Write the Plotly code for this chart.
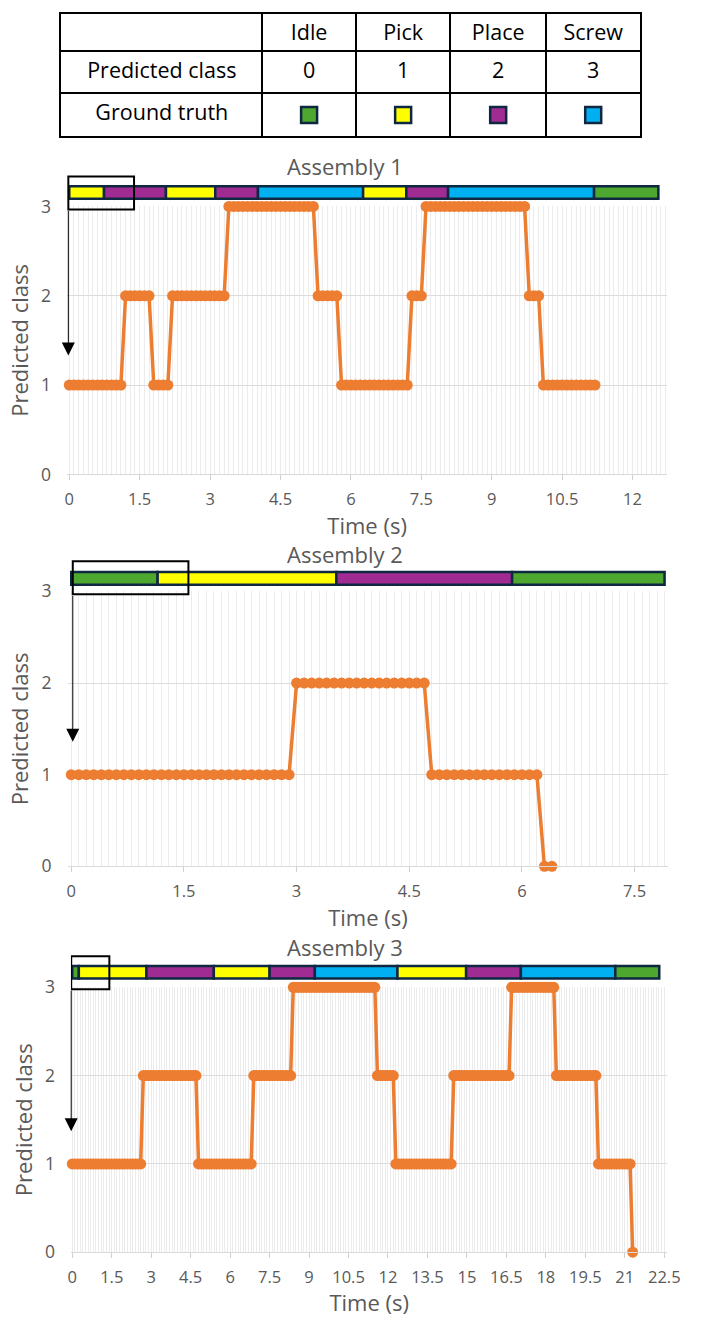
import plotly.graph_objects as go

W, H = 702, 1317

# ---------------- data ----------------
classes = ["Idle", "Pick", "Place", "Screw"]
class_ids = [0, 1, 2, 3]
gt_colors = ["#4EA72E", "#FFFF00", "#A02B93", "#00B0F0"]

sample_dt = 0.1  # seconds between predictions

# predicted class, run-length encoded: (class, number of consecutive samples)
pred1_class = [1, 2, 1, 2, 3, 2, 1, 2, 3, 2, 1]
pred1_count = [12, 6, 4, 12, 19, 5, 15, 3, 22, 3, 12]
pred2_class = [1, 2, 1, 0]
pred2_count = [30, 18, 15, 2]
pred3_class = [1, 2, 1, 2, 3, 2, 1, 2, 3, 2, 1, 0]
pred3_count = [27, 21, 21, 15, 32, 7, 22, 22, 17, 16, 13, 1]

# ground-truth segments (seconds)
gt1_start = [0, 0.74, 2.06, 3.11, 4.02, 6.26, 7.18, 8.07, 11.18]
gt1_end = [0.74, 2.06, 3.11, 4.02, 6.26, 7.18, 8.07, 11.18, 12.55]
gt1_label = [1, 2, 1, 2, 3, 1, 2, 3, 0]
gt2_start = [0, 1.15, 3.53, 5.87]
gt2_end = [1.15, 3.53, 5.87, 7.9]
gt2_label = [0, 1, 2, 0]
gt3_start = [0, 0.25, 2.82, 5.38, 7.5, 9.22, 12.36, 14.97, 17.05, 20.64]
gt3_end = [0.25, 2.82, 5.38, 7.5, 9.22, 12.36, 14.97, 17.05, 20.64, 22.31]
gt3_label = [0, 1, 2, 1, 2, 3, 1, 2, 3, 0]

titles = ["Assembly 1", "Assembly 2", "Assembly 3"]
x_tick_step = 1.5
x_label = "Time (s)"
y_label = "Predicted class"
row_labels = ["Predicted class", "Ground truth"]


def expand(cls, cnt):
    ys = []
    for c, n in zip(cls, cnt):
        ys += [c] * n
    ts = [round(i * sample_dt, 3) for i in range(len(ys))]
    return ts, ys


preds = [expand(pred1_class, pred1_count), expand(pred2_class, pred2_count),
         expand(pred3_class, pred3_count)]
gts = [(gt1_start, gt1_end, gt1_label), (gt2_start, gt2_end, gt2_label),
       (gt3_start, gt3_end, gt3_label)]

# ---------------- layout geometry (target pixels in the photo) ----------------
# the photographed page shows up slightly scaled/offset; compensate for it
SC = 0.982
OX, OY = 1.4, 11.5


def fx(p):
    return ((p - OX) / SC) / W


def fy(p):
    return 1 - ((p - OY) / SC) / H


panels = [
    dict(t0=68, scale=47.17, xr=(-0.05, 12.74), plot=(205, 473), bar=(176, 206),
         title_y=165, box=(-0.02, 1.38), box_y=(-0.067, 1.033), arrow=(1.33, 2.966)),
    dict(t0=70, scale=75.47, xr=(-0.05, 7.95), plot=(590, 865), bar=(562, 592),
         title_y=553, box=(0.02, 1.56), box_y=(-0.033, 1.067), arrow=(1.36, 2.967)),
    dict(t0=71, scale=26.44, xr=(-0.05, 22.62), plot=(986, 1251), bar=(956, 986),
         title_y=946, box=(-0.04, 1.41), box_y=(-0.067, 1.033), arrow=(1.37, 2.98)),
]

ORANGE = "#ED7D31"
DARK = "#0E2841"
GRAY_TXT = "#595959"
FONT = "Open Sans"

fig = go.Figure()
layout = dict(width=W, height=H, margin=dict(l=0, r=0, t=0, b=0),
              paper_bgcolor="white", plot_bgcolor="rgba(0,0,0,0)", showlegend=False,
              font=dict(family=FONT, color=GRAY_TXT))
shapes = []
annotations = []

for i, p in enumerate(panels):
    n = i + 1
    bn = i + 4
    xs = "" if n == 1 else str(n)
    left = p["t0"] + p["xr"][0] * p["scale"]
    right = p["t0"] + p["xr"][1] * p["scale"]
    xdom = [fx(left), fx(right)]

    layout["xaxis" + xs] = dict(
        domain=xdom, range=list(p["xr"]), anchor="y" + xs, tick0=0, dtick=x_tick_step,
        ticks="outside", ticklen=5, tickcolor="#d0d0d0", showline=True,
        linecolor="#d9d9d9", linewidth=1, showgrid=True, gridcolor="#ebebeb",
        zeroline=False, minor=dict(dtick=sample_dt, showgrid=True, gridcolor="#ececec"),
        tickfont=dict(size=16.5, color=GRAY_TXT), ticklabelstandoff=5,
        title=dict(text=x_label, font=dict(size=22, color=GRAY_TXT), standoff=2),
        fixedrange=True)
    layout["yaxis" + xs] = dict(
        domain=[fy(p["plot"][1]), fy(p["plot"][0])], range=[0, 3], anchor="x" + xs,
        tickvals=class_ids, showgrid=True, gridcolor="#dcdcdc", zeroline=False,
        showline=False, ticks="", ticklabelstandoff=15,
        tickfont=dict(size=17.5, color=GRAY_TXT),
        title=dict(text=y_label, font=dict(size=22, color=GRAY_TXT), standoff=6),
        fixedrange=True)
    layout["xaxis%d" % bn] = dict(domain=xdom, matches="x" + xs, anchor="y%d" % bn,
                                  visible=False, fixedrange=True)
    layout["yaxis%d" % bn] = dict(domain=[fy(p["bar"][1]), fy(p["bar"][0])],
                                  range=[-0.5, 0.5], anchor="x%d" % bn, visible=False,
                                  fixedrange=True)

    # ground truth bar
    st, en, lab = gts[i]
    fig.add_trace(go.Bar(
        x=[e - s for s, e in zip(st, en)], base=st, y=[0] * len(st), orientation="h",
        width=0.42, marker=dict(color=[gt_colors[l] for l in lab],
                                line=dict(color=DARK, width=2.5)),
        xaxis="x%d" % bn, yaxis="y%d" % bn, hoverinfo="skip"))

    # predictions
    ts, ys = preds[i]
    fig.add_trace(go.Scatter(
        x=ts, y=ys, mode="lines+markers", line=dict(color=ORANGE, width=3.5),
        marker=dict(size=11, color=ORANGE), cliponaxis=False,
        xaxis="x" + xs, yaxis="y" + xs, hoverinfo="skip"))

    # zoom box + arrow
    shapes.append(dict(type="rect", xref="x%d" % bn, yref="y%d domain" % bn,
                       x0=p["box"][0], x1=p["box"][1], y0=p["box_y"][0], y1=p["box_y"][1],
                       line=dict(color="black", width=2), fillcolor="rgba(0,0,0,0)",
                       layer="above"))
    annotations.append(dict(x=p["box"][0], y=p["arrow"][0], xref="x" + xs, yref="y" + xs,
                            ax=p["box"][0], ay=p["arrow"][1], axref="x" + xs,
                            ayref="y" + xs, text="", showarrow=True, arrowhead=2,
                            arrowsize=2.6, arrowwidth=1, arrowcolor="black"))
    annotations.append(dict(x=fx(345), y=fy(p["title_y"]), xref="paper", yref="paper",
                            text=titles[i], showarrow=False, xanchor="center",
                            yanchor="middle", font=dict(size=22, color=GRAY_TXT)))

# ---------------- legend table (axes measured in photo pixels) ----------------
col_edges = [60, 262, 356, 451, 547, 642]
row_edges = [8, 50, 92, 135]
top_px = max(row_edges[0], OY + 1.0 * SC)  # cannot go above the page top
col_centers = [(col_edges[k] + col_edges[k + 1]) / 2 for k in range(len(col_edges) - 1)]
row_centers = [(max(row_edges[k], top_px + 3) + row_edges[k + 1]) / 2
               for k in range(len(row_edges) - 1)]

layout["xaxis7"] = dict(domain=[fx(col_edges[0]), fx(col_edges[-1])],
                        range=[col_edges[0], col_edges[-1]], anchor="y7",
                        tickvals=col_edges[1:-1], showgrid=True, gridcolor="black",
                        gridwidth=1.5, showticklabels=False, ticks="", zeroline=False,
                        showline=True, mirror=True, linecolor="black", linewidth=1.5,
                        fixedrange=True)
layout["yaxis7"] = dict(domain=[fy(row_edges[-1]), fy(top_px)],
                        range=[row_edges[-1], top_px], anchor="x7",
                        tickvals=row_edges[1:-1], showgrid=True, gridcolor="black",
                        gridwidth=1.5, showticklabels=False, ticks="", zeroline=False,
                        showline=True, mirror=True, linecolor="black", linewidth=1.5,
                        fixedrange=True)

tfont = dict(size=21.5, color="black", family=FONT)
fig.add_trace(go.Scatter(x=col_centers[1:], y=[row_centers[0]] * 4, text=classes,
                         mode="text", textfont=tfont, xaxis="x7", yaxis="y7",
                         hoverinfo="skip"))
fig.add_trace(go.Scatter(x=[col_centers[0]] * 2, y=row_centers[1:], text=row_labels,
                         mode="text", textfont=tfont, xaxis="x7", yaxis="y7",
                         hoverinfo="skip"))
fig.add_trace(go.Scatter(x=col_centers[1:], y=[row_centers[1]] * 4,
                         text=[str(c) for c in class_ids], mode="text", textfont=tfont,
                         xaxis="x7", yaxis="y7", hoverinfo="skip"))
fig.add_trace(go.Scatter(x=col_centers[1:], y=[row_centers[2]] * 4, mode="markers",
                         marker=dict(symbol="square", size=16, color=gt_colors,
                                     line=dict(color=DARK, width=2.5)),
                         xaxis="x7", yaxis="y7", hoverinfo="skip"))

layout["shapes"] = shapes
layout["annotations"] = annotations
fig.update_layout(**layout)
fig.write_html(
    "out.html",
    config={"displayModeBar": False},
    post_script="document.body.style.margin='0';document.body.style.padding='0';"
                "document.documentElement.style.overflow='hidden';",
)
